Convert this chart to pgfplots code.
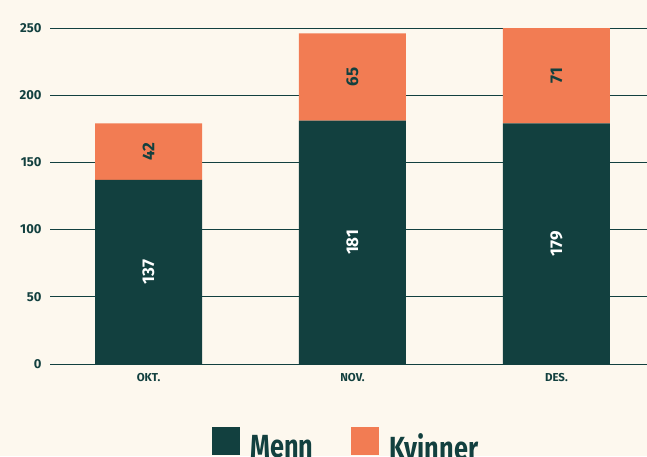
\documentclass[border=0pt]{standalone}
\usepackage{pgfplots}
\pgfplotsset{compat=1.18}
\usepackage{fontspec}
\setmainfont{Fira Sans}
\newfontfamily\legfont[FakeStretch=0.79]{Fira Sans}
\definecolor{teal}{HTML}{12403F}
\definecolor{coral}{HTML}{F27C53}
\definecolor{bg}{HTML}{FDF8EE}
\begin{document}
\begin{tikzpicture}
\fill[bg] (-50pt,-92pt) rectangle (597pt,364pt);
\begin{axis}[
    scale only axis,
    width=597pt, height=336pt,
    xmin=-0.483, xmax=2.444,
    ymin=0, ymax=250,
    ybar stacked,
    bar width=107pt,
    axis line style={draw=none},
    major tick length=0pt,
    ytick={0,50,...,250},
    xtick={0,1,2},
    xticklabels={OKT., NOV., DES.},
    ymajorgrids,
    grid style={teal, line width=0.9pt},
    /pgf/number format/assume math mode=true,
    yticklabel style={font=\bfseries\fontsize{13}{13}\selectfont, text=teal, xshift=-5pt},
    xticklabel style={font=\bfseries\fontsize{11.5}{12}\selectfont, text=teal, yshift=-6pt},
    legend columns=2,
    legend style={at={(axis description cs:0.2714,-0.1875)}, anchor=north west,
        draw=none, fill=none, inner sep=0pt,
        nodes={inner sep=0pt, text=teal, font=\legfont\bfseries\fontsize{32}{32}\selectfont},
        /tikz/every odd column/.append style={column sep=10pt},
        /tikz/every even column/.append style={column sep=38pt}},
    legend image code/.code={\fill[#1] (0pt,-8pt) rectangle (28pt,20pt);},
]
\addplot[fill=teal, draw=none] coordinates {(0,137) (1,181) (2,179)};
\addlegendentry{Menn}
\addplot[fill=coral, draw=none] coordinates {(0,42) (1,65) (2,71)};
\addlegendentry{Kvinner}
\end{axis}
\begin{axis}[
    scale only axis,
    width=597pt, height=336pt,
    xmin=-0.483, xmax=2.444,
    ymin=0, ymax=250,
    hide axis,
    clip=false,
]
\addplot[only marks, mark=none, nodes near coords, point meta=explicit symbolic,
    every node near coord/.style={anchor=center, rotate=90, text=white,
        font=\bfseries\fontsize{17}{17}\selectfont}]
    coordinates {(0,68.5)[137] (1,90.5)[181] (2,89.5)[179]};
\addplot[only marks, mark=none, nodes near coords, point meta=explicit symbolic,
    every node near coord/.style={anchor=center, rotate=90, text=teal,
        font=\bfseries\fontsize{17}{17}\selectfont}]
    coordinates {(0,158)[42] (1,213.5)[65] (2,214.5)[71]};
\end{axis}
\pgfresetboundingbox
\path (-50pt,-92pt) rectangle (597pt,364pt);
\end{tikzpicture}
\end{document}
